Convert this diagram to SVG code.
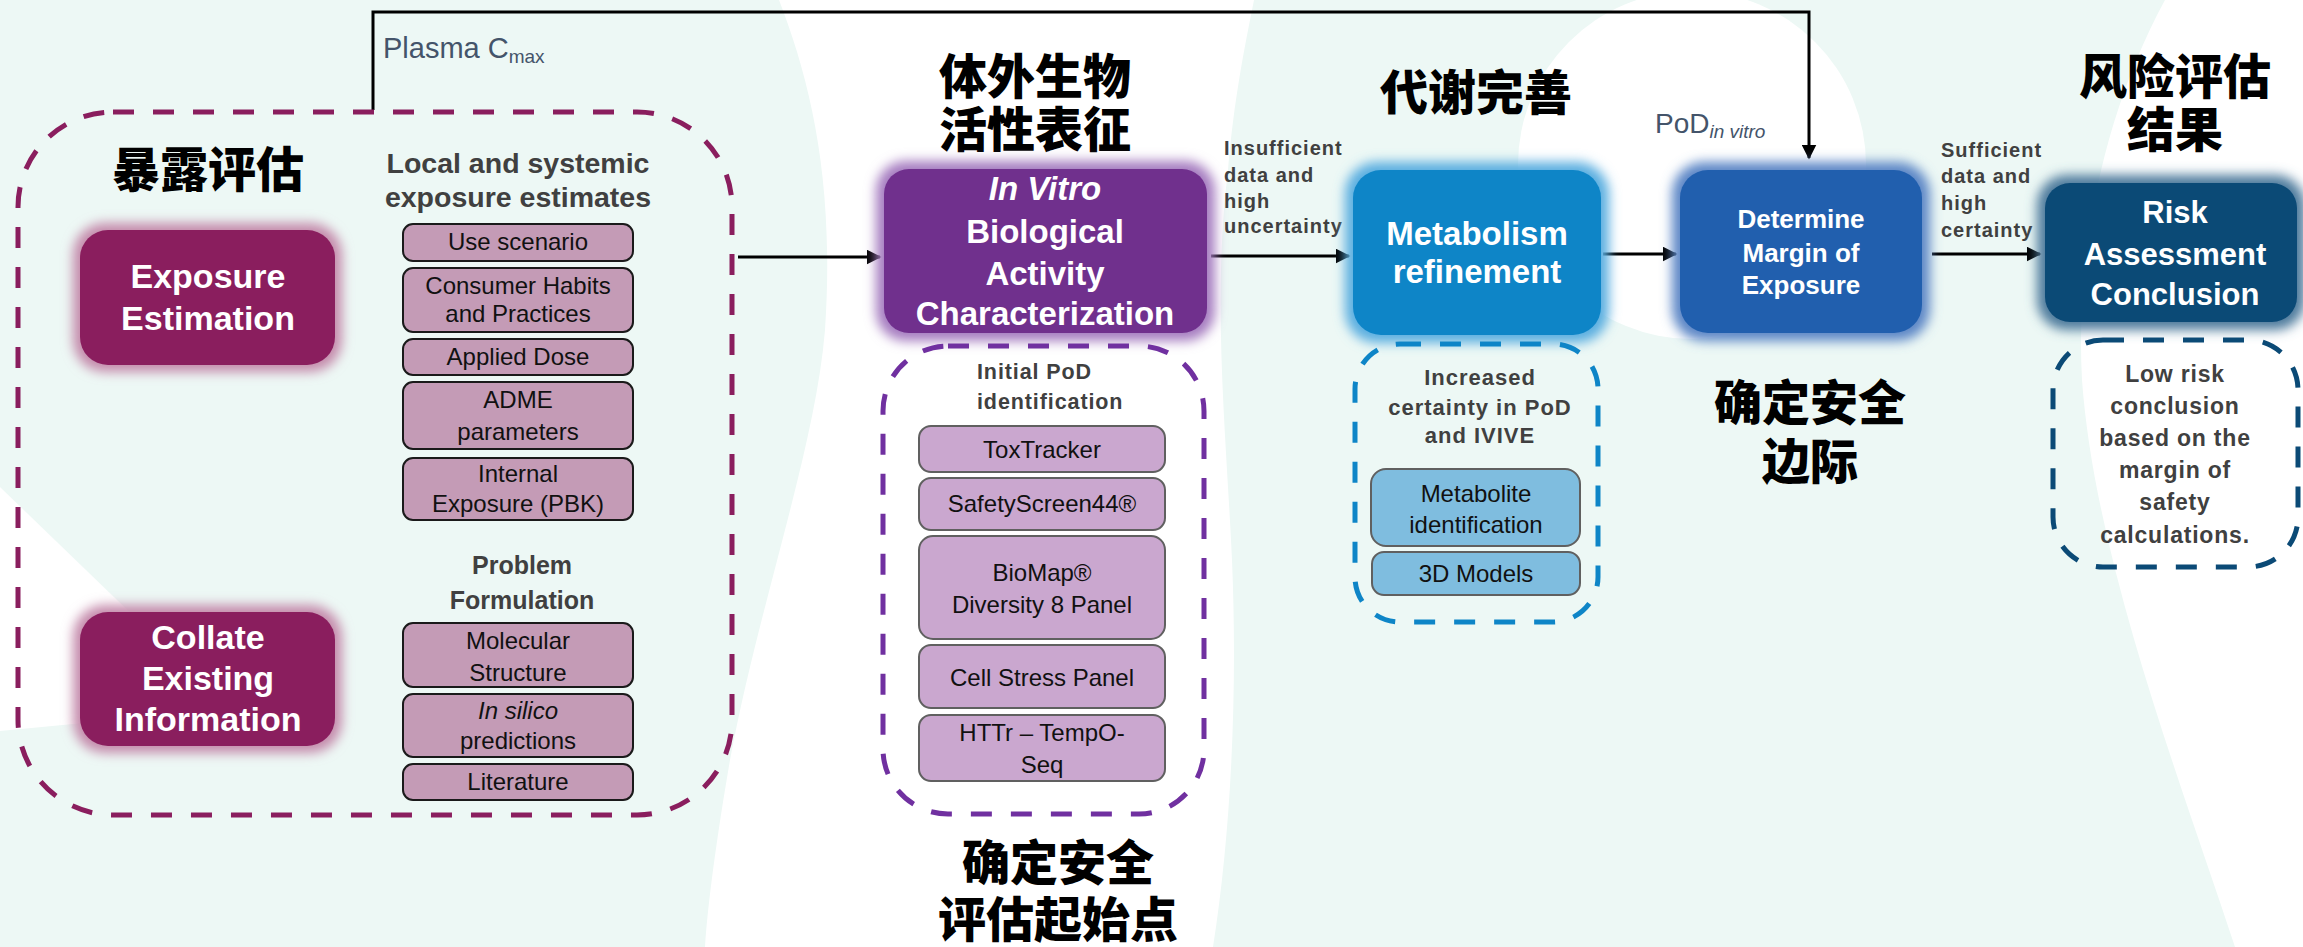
<svg xmlns="http://www.w3.org/2000/svg" width="2303" height="947" viewBox="0 0 2303 947">
<defs>
<style>
.bg{fill:#EDF8F5}
.wh{fill:#FFFFFF}
.cjk{font-family:"Noto Sans CJK SC","Noto Sans CJK JP",sans-serif;font-weight:900;font-size:48px;fill:#000;text-anchor:middle}
.main{font-family:"Liberation Sans",Arial,sans-serif;font-weight:700;fill:#fff;text-anchor:middle}
.sub{font-family:"Liberation Sans",Arial,sans-serif;font-weight:700;fill:#404040}
.item{font-family:"Liberation Sans",Arial,sans-serif;font-size:24px;fill:#111;text-anchor:middle}
.lbl{font-family:"Liberation Sans",Arial,sans-serif;fill:#44546A}
.pinkbox{fill:#C49BB6;stroke:#1a1a1a;stroke-width:2}
.lilac{fill:#CAA7CF;stroke:#606060;stroke-width:2}
.ltblue{fill:#7FBDDF;stroke:#606060;stroke-width:2}
.dash{fill:none;stroke-width:5;stroke-dasharray:21 19}
.conn{fill:none;stroke:#000;stroke-width:3}
</style>
<filter id="glow" x="-20%" y="-20%" width="140%" height="140%"><feGaussianBlur stdDeviation="6"/></filter>
<marker id="arr" viewBox="0 0 10 10" refX="9" refY="5" markerWidth="5" markerHeight="5" orient="auto" markerUnits="strokeWidth"><path d="M0,0 L10,5 L0,10 Z" fill="#000"/></marker>
</defs>

<g id="background">
<rect class="bg" x="0" y="0" width="2303" height="947"/>
<path class="wh" d="M779,0 C810,80 835,180 825,330 C815,450 760,600 730,760 C718,830 708,900 705,947 L1213,947 C1230,840 1238,700 1232,560 C1226,430 1212,300 1228,170 C1234,100 1244,50 1254,0 Z"/>
<circle class="wh" cx="1692" cy="165" r="174"/>
<path class="wh" d="M2165,0 C2105,110 2075,250 2082,380 C2095,560 2180,780 2235,947 L2303,947 L2303,0 Z"/>
<path class="wh" d="M0,487 L230,709 L0,731 Z"/>
</g>

<g id="connectors">
<path class="conn" d="M373,110 V12 H1809 V158" marker-end="url(#arr)"/>
<line class="conn" x1="738" y1="257" x2="880" y2="257" marker-end="url(#arr)"/>
<line class="conn" x1="1211" y1="256" x2="1349" y2="256" marker-end="url(#arr)"/>
<line class="conn" x1="1603" y1="254" x2="1676" y2="254" marker-end="url(#arr)"/>
<line class="conn" x1="1932" y1="254" x2="2040" y2="254" marker-end="url(#arr)"/>
<text class="lbl" x="383" y="58" font-size="29">Plasma C<tspan font-size="19" dy="5">max</tspan></text>
<text class="lbl" x="1655" y="133" font-size="28">PoD<tspan font-size="19" font-style="italic" dy="5">in vitro</tspan></text>
<text class="sub" font-size="20" letter-spacing="1"><tspan x="1224" y="155">Insufficient</tspan><tspan x="1224" y="182">data and</tspan><tspan x="1224" y="208">high</tspan><tspan x="1224" y="233">uncertainty</tspan></text>
<text class="sub" font-size="20" letter-spacing="1"><tspan x="1941" y="157">Sufficient</tspan><tspan x="1941" y="183">data and</tspan><tspan x="1941" y="210">high</tspan><tspan x="1941" y="237">certainty</tspan></text>
</g>

<g id="exposure-group">
<rect class="dash" x="18" y="112" width="714" height="703" rx="95" stroke="#8A1E5E"/>
<text class="cjk" x="208" y="187">暴露评估</text>
<text class="sub" font-size="28.5" text-anchor="middle"><tspan x="518" y="173">Local and systemic</tspan><tspan x="518" y="207">exposure estimates</tspan></text>
<text class="sub" font-size="25" text-anchor="middle"><tspan x="522" y="574">Problem</tspan><tspan x="522" y="609">Formulation</tspan></text>
</g>

<g id="exposure-estimation">
<rect x="73" y="223" width="269" height="149" rx="32" fill="#C48AAB" filter="url(#glow)"/>
<rect x="80" y="230" width="255" height="135" rx="28" fill="#8A1E5E"/>
<text class="main" font-size="34"><tspan x="208" y="288">Exposure</tspan><tspan x="208" y="330">Estimation</tspan></text>
</g>

<g id="collate-existing-information">
<rect x="73" y="605" width="269" height="148" rx="32" fill="#C48AAB" filter="url(#glow)"/>
<rect x="80" y="612" width="255" height="134" rx="28" fill="#8A1E5E"/>
<text class="main" font-size="34"><tspan x="208" y="649">Collate</tspan><tspan x="208" y="690">Existing</tspan><tspan x="208" y="731">Information</tspan></text>
</g>

<g id="use-scenario"><rect class="pinkbox" x="403" y="224" width="230" height="37" rx="10"/><text class="item" x="518" y="250">Use scenario</text></g>
<g id="consumer-habits"><rect class="pinkbox" x="403" y="268" width="230" height="64" rx="10"/><text class="item" font-size="21"><tspan x="518" y="294">Consumer Habits</tspan><tspan x="518" y="322">and Practices</tspan></text></g>
<g id="applied-dose"><rect class="pinkbox" x="403" y="339" width="230" height="36" rx="10"/><text class="item" x="518" y="365">Applied Dose</text></g>
<g id="adme"><rect class="pinkbox" x="403" y="382" width="230" height="67" rx="10"/><text class="item"><tspan x="518" y="408">ADME</tspan><tspan x="518" y="440">parameters</tspan></text></g>
<g id="internal-exposure"><rect class="pinkbox" x="403" y="458" width="230" height="62" rx="10"/><text class="item"><tspan x="518" y="482">Internal</tspan><tspan x="518" y="512">Exposure (PBK)</tspan></text></g>
<g id="molecular-structure"><rect class="pinkbox" x="403" y="623" width="230" height="64" rx="10"/><text class="item"><tspan x="518" y="649">Molecular</tspan><tspan x="518" y="681">Structure</tspan></text></g>
<g id="in-silico"><rect class="pinkbox" x="403" y="694" width="230" height="63" rx="10"/><text class="item"><tspan x="518" y="719" font-style="italic">In silico</tspan><tspan x="518" y="749">predictions</tspan></text></g>
<g id="literature"><rect class="pinkbox" x="403" y="764" width="230" height="36" rx="10"/><text class="item" x="518" y="790">Literature</text></g>

<g id="in-vitro">
<text class="cjk"><tspan x="1035" y="94">体外生物</tspan><tspan x="1035" y="147">活性表征</tspan></text>
<rect x="876" y="161" width="339" height="180" rx="30" fill="#A57CC0" filter="url(#glow)"/>
<rect x="884" y="169" width="323" height="164" rx="25" fill="#70308D"/>
<text class="main" font-size="33"><tspan x="1045" y="200" font-style="italic">In Vitro</tspan><tspan x="1045" y="243">Biological</tspan><tspan x="1045" y="285">Activity</tspan><tspan x="1045" y="325">Characterization</tspan></text>
</g>

<g id="initial-pod">
<rect class="dash" x="883" y="346" width="321" height="468" rx="65" stroke="#7030A0"/>
<text class="sub" font-size="21.5" letter-spacing="0.9"><tspan x="977" y="379">Initial PoD</tspan><tspan x="977" y="409">identification</tspan></text>
<text class="cjk"><tspan x="1058" y="880">确定安全</tspan><tspan x="1058" y="937">评估起始点</tspan></text>
</g>
<g id="toxtracker"><rect class="lilac" x="919" y="426" width="246" height="46" rx="12"/><text class="item" font-size="25" x="1042" y="458">ToxTracker</text></g>
<g id="safetyscreen"><rect class="lilac" x="919" y="478" width="246" height="52" rx="12"/><text class="item" font-size="25" x="1042" y="512">SafetyScreen44®</text></g>
<g id="biomap"><rect class="lilac" x="919" y="536" width="246" height="103" rx="14"/><text class="item" font-size="25"><tspan x="1042" y="581">BioMap®</tspan><tspan x="1042" y="613">Diversity 8 Panel</tspan></text></g>
<g id="cell-stress"><rect class="lilac" x="919" y="645" width="246" height="63" rx="12"/><text class="item" font-size="25" x="1042" y="686">Cell Stress Panel</text></g>
<g id="httr"><rect class="lilac" x="919" y="715" width="246" height="66" rx="12"/><text class="item" font-size="25"><tspan x="1042" y="741">HTTr – TempO-</tspan><tspan x="1042" y="773">Seq</tspan></text></g>

<g id="metabolism">
<text class="cjk" x="1476" y="110">代谢完善</text>
<rect x="1345" y="162" width="264" height="181" rx="32" fill="#5AAEE0" filter="url(#glow)"/>
<rect x="1353" y="170" width="248" height="165" rx="28" fill="#0E85C7"/>
<text class="main" font-size="33"><tspan x="1477" y="245">Metabolism</tspan><tspan x="1477" y="283">refinement</tspan></text>
</g>
<g id="increased-certainty">
<rect class="dash" x="1355" y="344" width="243" height="278" rx="45" stroke="#0E85C7"/>
<text class="sub" font-size="22" letter-spacing="1" text-anchor="middle"><tspan x="1480" y="385">Increased</tspan><tspan x="1480" y="415">certainty in PoD</tspan><tspan x="1480" y="443">and IVIVE</tspan></text>
</g>
<g id="metabolite-id"><rect class="ltblue" x="1371" y="469" width="209" height="77" rx="15"/><text class="item" font-size="25"><tspan x="1476" y="502">Metabolite</tspan><tspan x="1476" y="533">identification</tspan></text></g>
<g id="3d-models"><rect class="ltblue" x="1372" y="552" width="208" height="43" rx="12"/><text class="item" font-size="25" x="1476" y="582">3D Models</text></g>

<g id="determine-moe">
<rect x="1672" y="162" width="258" height="179" rx="32" fill="#5B86C6" filter="url(#glow)"/>
<rect x="1680" y="170" width="242" height="163" rx="28" fill="#215FAE"/>
<text class="main" font-size="26"><tspan x="1801" y="228">Determine</tspan><tspan x="1801" y="262">Margin of</tspan><tspan x="1801" y="294">Exposure</tspan></text>
<text class="cjk"><tspan x="1810" y="420">确定安全</tspan><tspan x="1810" y="479">边际</tspan></text>
</g>

<g id="risk-conclusion">
<text class="cjk"><tspan x="2175" y="94">风险评估</tspan><tspan x="2175" y="147">结果</tspan></text>
<rect x="2037" y="175" width="268" height="155" rx="30" fill="#4D7A9C" filter="url(#glow)"/>
<rect x="2045" y="183" width="252" height="139" rx="25" fill="#0B4A76"/>
<text class="main" font-size="31"><tspan x="2175" y="223">Risk</tspan><tspan x="2175" y="265">Assessment</tspan><tspan x="2175" y="305">Conclusion</tspan></text>
</g>
<g id="low-risk">
<rect class="dash" x="2053" y="340" width="245" height="227" rx="50" stroke="#0B4A76"/>
<text class="sub" font-size="23" letter-spacing="0.8" text-anchor="middle"><tspan x="2175" y="382">Low risk</tspan><tspan x="2175" y="414">conclusion</tspan><tspan x="2175" y="446">based on the</tspan><tspan x="2175" y="478">margin of</tspan><tspan x="2175" y="510">safety</tspan><tspan x="2175" y="543">calculations.</tspan></text>
</g>
</svg>
